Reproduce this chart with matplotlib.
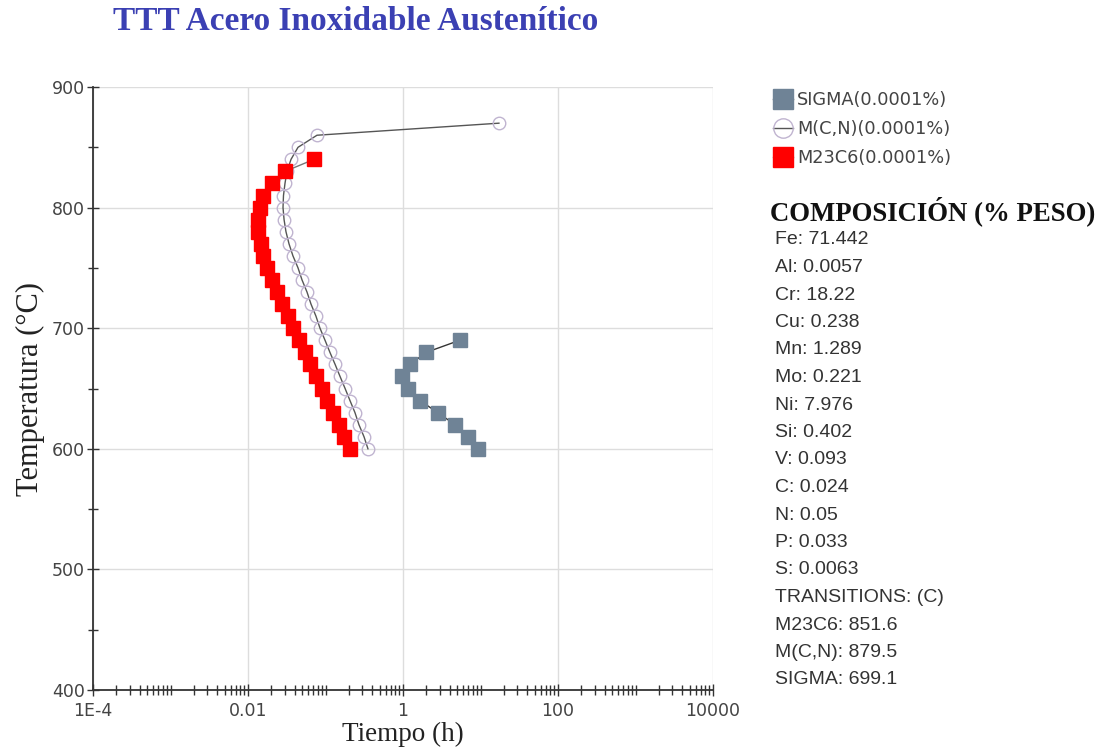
import matplotlib.pyplot as plt
from matplotlib.ticker import FixedLocator, FixedFormatter, LogLocator, NullFormatter, MultipleLocator

# curvas TTT (temperatura en °C, tiempo en h)
temp_sigma = [600, 610, 620, 630, 640, 650, 660, 670, 680, 690]
t_sigma = [9.3, 6.9, 4.7, 2.8, 1.66, 1.16, 0.98, 1.23, 2.0, 5.4]

temp_mcn = [600, 610, 620, 630, 640, 650, 660, 670, 680, 690, 700, 710, 720, 730,
            740, 750, 760, 770, 780, 790, 800, 810, 820, 830, 840, 850, 860, 870]
t_mcn = [0.353, 0.314, 0.270, 0.240, 0.207, 0.179, 0.154, 0.133, 0.114, 0.0986,
         0.0849, 0.0753, 0.065, 0.0577, 0.0498, 0.0442, 0.038, 0.0338, 0.0309,
         0.0292, 0.0283, 0.0287, 0.030, 0.0318, 0.0359, 0.0442, 0.0776, 17.3]

temp_m23c6 = [600, 610, 620, 630, 640, 650, 660, 670, 680, 690, 700, 710, 720,
              730, 740, 750, 760, 770, 780, 790, 800, 810, 820, 830, 840]
t_m23c6 = [0.207, 0.173, 0.149, 0.125, 0.1045, 0.0901, 0.0753, 0.0631, 0.0544,
           0.0455, 0.0381, 0.0324, 0.0275, 0.0237, 0.0204, 0.0176, 0.0156, 0.0147,
           0.0135, 0.0135, 0.0143, 0.0156, 0.0204, 0.030, 0.0711]

x_ticks = [1e-4, 1e-2, 1, 100, 10000]
x_labels = ['1E-4', '0.01', '1', '100', '10000']

elementos = ['Fe', 'Al', 'Cr', 'Cu', 'Mn', 'Mo', 'Ni', 'Si', 'V', 'C', 'N', 'P', 'S']
pesos = ['71.442', '0.0057', '18.22', '0.238', '1.289', '0.221', '7.976', '0.402',
         '0.093', '0.024', '0.05', '0.033', '0.0063']
fases = ['M23C6', 'M(C,N)', 'SIGMA']
transiciones = ['851.6', '879.5', '699.1']

W, H = 1105, 755
fig = plt.figure(figsize=(W / 100, H / 100), dpi=100)
ax = fig.add_axes([93 / W, 1 - 690 / H, 620 / W, 603 / H])

ax.plot(t_sigma, temp_sigma, color='#333333', lw=1, marker='s', ms=9.5,
        mfc='#6f8396', mec='#6f8396', label='SIGMA(0.0001%)', zorder=3)
ax.plot(t_mcn, temp_mcn, color='#555555', lw=1, marker='o', ms=9,
        mfc='none', mec='#c0b4d0', mew=1, label='M(C,N)(0.0001%)', zorder=3)
ax.plot(t_m23c6, temp_m23c6, color='#777777', lw=1, marker='s', ms=9.5,
        mfc='#ff0000', mec='#ff0000', label='M23C6(0.0001%)', zorder=4)

ax.set_xscale('log')
ax.set_xlim(1e-4, 1e4)
ax.set_ylim(400, 900)

ax.xaxis.set_major_locator(FixedLocator(x_ticks))
ax.xaxis.set_major_formatter(FixedFormatter(x_labels))
ax.xaxis.set_minor_locator(LogLocator(base=10, subs=range(1, 10), numticks=100))
ax.xaxis.set_minor_formatter(NullFormatter())
ax.yaxis.set_major_locator(MultipleLocator(100))
ax.yaxis.set_minor_locator(MultipleLocator(50))

ax.tick_params(which='both', direction='inout', color='#333333', width=1)
ax.tick_params(which='major', length=8, labelsize=12.5, labelcolor='#444444', pad=2)
ax.tick_params(which='minor', length=7)
ax.tick_params(axis='x', which='major', pad=5)

ax.grid(True, which='major', color='#dddddd', lw=1)
ax.set_axisbelow(True)
for s in ['top', 'right']:
    ax.spines[s].set_visible(False)
for s in ['left', 'bottom']:
    ax.spines[s].set_color('#333333')
    ax.spines[s].set_linewidth(1.3)

ax.set_xlabel('Tiempo (h)', family='Liberation Serif', fontsize=19.5, color='#222222', labelpad=1)
ax.set_ylabel('Temperatura (°C)', family='Liberation Serif', fontsize=22, color='#222222', labelpad=5)

fig.text(113 / W, 1 - 22 / H, 'TTT Acero Inoxidable Austenítico', family='Liberation Serif',
         fontweight='bold', fontsize=24, color='#3b40b3', va='center', ha='left')

leg = fig.legend(loc='upper left', bbox_to_anchor=(766 / W, 1 - 84 / H), frameon=False,
                 markerscale=1.55, handlelength=1.1, handletextpad=0.25, labelspacing=0.62,
                 fontsize=12.8, borderaxespad=0)
for txt in leg.get_texts():
    txt.set_color('#444444')

fig.text(770 / W, 1 - 211 / H, 'COMPOSICIÓN (% PESO)', family='Liberation Serif',
         fontweight='bold', fontsize=19.3, color='#111111', va='center')

lineas = [f'{e}: {p}' for e, p in zip(elementos, pesos)]
lineas.append('TRANSITIONS: (C)')
lineas += [f'{f}: {t}' for f, t in zip(fases, transiciones)]
for i, linea in enumerate(lineas):
    fig.text(775 / W, 1 - (240 + i * 27.5) / H, linea, family='Liberation Sans',
             fontsize=14, color='#333333', va='center')

fig.savefig('out.png', dpi=100)
